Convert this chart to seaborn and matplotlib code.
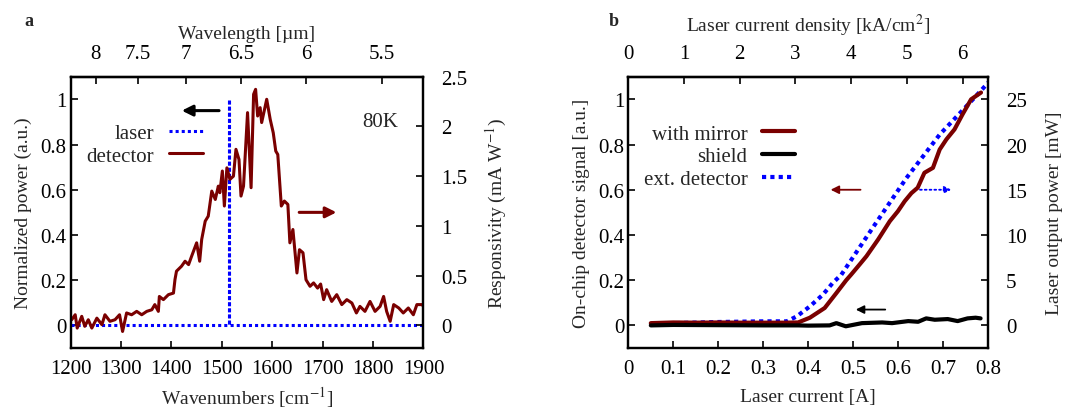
import matplotlib
matplotlib.use('Agg')
import matplotlib.pyplot as plt
from matplotlib.lines import Line2D
from matplotlib.ticker import FuncFormatter
import seaborn as sns

# panel a: spectrum
wavenumber = [1202, 1209, 1213, 1222, 1228, 1235, 1242, 1252, 1262, 1268, 1278, 1288,
              1297, 1303, 1311, 1321, 1331, 1341, 1351, 1361, 1367, 1374, 1376, 1384,
              1394, 1404, 1407, 1410, 1420, 1427, 1434, 1440, 1450, 1456, 1460, 1467,
              1473, 1480, 1487, 1493, 1496, 1501, 1505, 1510, 1516, 1523, 1528, 1534,
              1538, 1543, 1551, 1558, 1563, 1567, 1571, 1576, 1579, 1584, 1589, 1596,
              1602, 1607, 1611, 1618, 1624, 1631, 1635, 1641, 1649, 1654, 1661, 1667,
              1675, 1682, 1690, 1696, 1702, 1708, 1718, 1728, 1738, 1748, 1758, 1767,
              1774, 1784, 1794, 1804, 1814, 1821, 1827, 1834, 1841, 1851, 1860, 1870,
              1880, 1887, 1897, 1900]
responsivity = [0.057, 0.107, -0.027, 0.091, -0.009, 0.057, -0.027, 0.073, 0.007, 0.107,
                0.041, 0.057, 0.107, -0.061, 0.125, 0.107, 0.141, 0.107, 0.141, 0.157,
                0.209, 0.141, 0.291, 0.259, 0.309, 0.325, 0.461, 0.545, 0.595, 0.645,
                0.611, 0.695, 0.83, 0.645, 0.864, 1.048, 1.098, 1.35, 1.266, 1.4,
                1.334, 1.552, 1.2, 1.584, 1.468, 1.5, 1.77, 1.668, 1.3, 1.4,
                2.139, 1.384, 2.323, 2.373, 2.105, 2.189, 2.039, 2.155, 2.273, 2.07,
                1.936, 1.752, 1.718, 1.2, 1.25, 1.216, 0.83, 0.964, 0.527, 0.761,
                0.73, 0.459, 0.393, 0.427, 0.375, 0.416, 0.259, 0.359, 0.241, 0.309,
                0.209, 0.259, 0.225, 0.125, 0.191, 0.141, 0.241, 0.141, 0.191, 0.291,
                0.141, 0.041, 0.209, 0.175, 0.125, 0.175, 0.107, 0.209, 0.209, 0.193]
laser_wn = [1200, 1515, 1515, 1515, 1900]
laser_power = [0, 0, 1.0, 0, 0]
wl_ticks = [8, 7.5, 7, 6.5, 6, 5.5]

# panel b: L-I curves
current_mirror = [0.05, 0.10, 0.15, 0.20, 0.25, 0.30, 0.35, 0.378, 0.404, 0.437, 0.463,
                  0.485, 0.496, 0.515, 0.53, 0.556, 0.582, 0.60, 0.615, 0.63, 0.644,
                  0.659, 0.678, 0.693, 0.708, 0.726, 0.744, 0.763, 0.785]
signal_mirror = [0.010, 0.013, 0.012, 0.013, 0.012, 0.012, 0.012, 0.013, 0.034, 0.077, 0.143,
                 0.20, 0.225, 0.27, 0.306, 0.38, 0.461, 0.505, 0.549, 0.585, 0.609,
                 0.675, 0.697, 0.778, 0.823, 0.867, 0.934, 1.0, 1.03]
current_shield = [0.05, 0.10, 0.20, 0.30, 0.378, 0.40, 0.448, 0.463, 0.484, 0.52, 0.565,
                  0.587, 0.623, 0.645, 0.663, 0.682, 0.711, 0.733, 0.755, 0.773, 0.784]
signal_shield = [0.0, 0.002, 0.001, 0.0, 0.0, -0.001, 0.0, 0.01, -0.004, 0.01, 0.013,
                 0.01, 0.019, 0.016, 0.031, 0.025, 0.028, 0.019, 0.031, 0.034, 0.031]
current_ext = [0.05, 0.10, 0.20, 0.30, 0.353, 0.375, 0.404, 0.433, 0.455, 0.474, 0.544,
               0.619, 0.693, 0.767, 0.804]
power_ext = [0.125, 0.25, 0.375, 0.45, 0.45, 1.0, 2.1, 3.4, 4.7, 5.6, 10.8,
             16.3, 21.1, 25.0, 27.0]
density_ticks = [0, 1, 2, 3, 4, 5, 6]
amp_per_density = 0.124  # A per kA/cm^2

DARKRED = '#7a0000'
BLUE = '#0000ff'
DOT = (0, (1, 1))
FS = 14
TFS = 15

sns.set_style('ticks', {'xtick.direction': 'in', 'ytick.direction': 'in'})
plt.rcParams['font.family'] = ['Liberation Serif', 'DejaVu Serif']
plt.rcParams['mathtext.fontset'] = 'stix'
plt.rcParams['axes.linewidth'] = 1.6
plt.rcParams['xtick.major.size'] = 5
plt.rcParams['ytick.major.size'] = 5
plt.rcParams['xtick.major.width'] = 1.2
plt.rcParams['ytick.major.width'] = 1.2
plt.rcParams['xtick.labelsize'] = TFS
plt.rcParams['ytick.labelsize'] = TFS
plt.rcParams['axes.labelsize'] = FS
plt.rcParams['axes.edgecolor'] = 'black'
plt.rcParams['xtick.color'] = 'black'
plt.rcParams['ytick.color'] = 'black'

fmt = FuncFormatter(lambda v, p: '%g' % v)

fig = plt.figure(figsize=(10.69, 4.14), dpi=100)
axa = fig.add_axes([0.0661, 0.157, 0.330, 0.6553])
axb = fig.add_axes([0.5878, 0.157, 0.3362, 0.6553])

# ---------- panel a ----------
axa2 = axa.twinx()
sns.lineplot(x=laser_wn, y=laser_power, ax=axa, color=BLUE, lw=2.2, ls=DOT,
             estimator=None, sort=False)
sns.lineplot(x=wavenumber, y=responsivity, ax=axa2, color=DARKRED, lw=2.2,
             estimator=None, sort=False)
axa.set_xlim(1200, 1900)
axa.set_ylim(-0.1, 1.1)
axa2.set_ylim(-0.1 * 2.5 / 1.1, 2.5)
axa.set_xticks(range(1200, 1901, 100))
axa.set_yticks([0, 0.2, 0.4, 0.6, 0.8, 1.0])
axa2.set_yticks([0, 0.5, 1, 1.5, 2, 2.5])
axa.yaxis.set_major_formatter(fmt)
axa2.yaxis.set_major_formatter(fmt)
axa.tick_params(axis='x', pad=8)
axa.tick_params(axis='y', pad=3)
axa2.tick_params(axis='y', pad=13)
axa.set_xlabel('Wavenumbers [cm$^{-1}$]', labelpad=4)
axa.set_ylabel('Normalized power (a.u.)', labelpad=6)
axa2.set_ylabel('Responsivity (mA W$^{-1}$)', labelpad=12)
topa = axa.secondary_xaxis('top', functions=(lambda x: 1e4 / x, lambda x: 1e4 / x))
topa.set_xticks(wl_ticks)
topa.xaxis.set_major_formatter(fmt)
topa.set_xlabel('Wavelength [µm]', labelpad=4)
topa.tick_params(direction='in', length=5, width=1.2, pad=10)

axa.annotate('', xy=(1415, 0.95), xytext=(1500, 0.95),
             arrowprops=dict(arrowstyle='-|>', color='black', lw=2.2, mutation_scale=16))
axa.annotate('', xy=(1733, 0.5), xytext=(1648, 0.5),
             arrowprops=dict(arrowstyle='-|>', color=DARKRED, lw=2.2, mutation_scale=16))
axa.text(1814, 0.9, '80K', fontsize=TFS, ha='center', va='center')

ha = [Line2D([], [], color=BLUE, lw=2.2, ls=DOT),
      Line2D([], [], color=DARKRED, lw=2.2)]
axa.legend(ha, ['laser', 'detector'], loc='upper right', bbox_to_anchor=(0.375, 0.826),
           frameon=False, markerfirst=False, fontsize=TFS, handlelength=1.65,
           handletextpad=0.7, labelspacing=0.12, borderpad=0, borderaxespad=0)

# ---------- panel b ----------
axb2 = axb.twinx()
sns.lineplot(x=current_ext, y=power_ext, ax=axb2, color=BLUE, lw=3, ls=DOT,
             estimator=None, sort=False)
sns.lineplot(x=current_mirror, y=signal_mirror, ax=axb, color=DARKRED, lw=3,
             estimator=None, sort=False)
sns.lineplot(x=current_shield, y=signal_shield, ax=axb, color='black', lw=3,
             estimator=None, sort=False)
axb.set_zorder(axb2.get_zorder() + 1)
axb.patch.set_visible(False)
axb.set_xlim(0, 0.8)
axb.set_ylim(-0.1, 1.1)
axb2.set_ylim(-2.5, 27.5)
axb.set_xticks([0, 0.1, 0.2, 0.3, 0.4, 0.5, 0.6, 0.7, 0.8])
axb.set_yticks([0, 0.2, 0.4, 0.6, 0.8, 1.0])
axb2.set_yticks([0, 5, 10, 15, 20, 25])
axb.xaxis.set_major_formatter(fmt)
axb.yaxis.set_major_formatter(fmt)
axb2.yaxis.set_major_formatter(fmt)
axb.tick_params(axis='x', pad=8)
axb.tick_params(axis='y', pad=3)
axb2.tick_params(axis='y', pad=13)
axb.set_xlabel('Laser current [A]', labelpad=7)
axb.set_ylabel('On-chip detector signal [a.u.]', labelpad=6)
axb2.set_ylabel('Laser output power [mW]', labelpad=14)
topb = axb.secondary_xaxis('top', functions=(lambda x: x / amp_per_density,
                                             lambda x: x * amp_per_density))
topb.set_xticks(density_ticks)
topb.set_xlabel('Laser current density [kA/cm$^2$]', labelpad=9)
topb.tick_params(direction='in', length=5, width=1.2, pad=10)

axb.annotate('', xy=(0.444, 0.6), xytext=(0.523, 0.6),
             arrowprops=dict(arrowstyle='-|>', color=DARKRED, lw=1.3, mutation_scale=12))
axb.annotate('', xy=(0.725, 0.6), xytext=(0.643, 0.6),
             arrowprops=dict(arrowstyle='-|>', color=BLUE, lw=1.3, ls=':',
                             mutation_scale=10))
axb.annotate('', xy=(0.5, 0.07), xytext=(0.578, 0.07),
             arrowprops=dict(arrowstyle='-|>', color='black', lw=1.3, mutation_scale=12))

hb = [Line2D([], [], color=DARKRED, lw=3),
      Line2D([], [], color='black', lw=3),
      Line2D([], [], color=BLUE, lw=3, ls=DOT)]
axb.legend(hb, ['with mirror', 'shield', 'ext. detector'], loc='upper right',
           bbox_to_anchor=(0.465, 0.825), frameon=False, markerfirst=False, fontsize=TFS,
           handlelength=1.6, handletextpad=0.7, labelspacing=0.15, borderpad=0,
           borderaxespad=0)

fig.text(29 / 1069, 1 - 22 / 414, 'a', fontsize=13, fontweight='bold', ha='center', va='center')
fig.text(614 / 1069, 1 - 22 / 414, 'b', fontsize=13, fontweight='bold', ha='center', va='center')

fig.savefig('out.png', dpi=100)
